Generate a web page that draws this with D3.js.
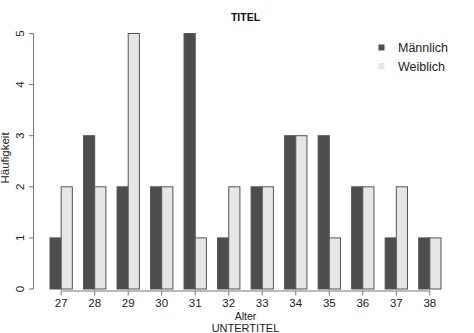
<!DOCTYPE html>
<html><head><meta charset="utf-8">
<script src="https://cdn.jsdelivr.net/npm/d3@7"></script>
<style>body{margin:0;background:#fff}text{font-family:"Liberation Sans",Arial,sans-serif}</style>
</head><body><svg id="c" width="474" height="333"></svg>
<script>
const categories = ["27","28","29","30","31","32","33","34","35","36","37","38"];
const seriesNames = ["Männlich","Weiblich"];
const maennlich = [1,3,2,2,5,1,2,3,3,2,1,1];
const weiblich  = [2,2,5,2,1,2,2,3,1,2,2,1];
const yTicks = [0,1,2,3,4,5];
const colors = ["#4d4d4d","#e6e6e6"];

const svg = d3.select("#c");
const x = d3.scaleLinear().domain([1,36]).range([50,441]);
const y = d3.scaleLinear().domain([0,5]).range([289,33.5]);
const series = [maennlich, weiblich];

// bars
series.forEach((vals, s) => {
  svg.append("g").selectAll("rect").data(vals).join("rect")
    .attr("x", (d,i) => x(1 + 3*i + s))
    .attr("width", x(2) - x(1))
    .attr("y", d => y(d))
    .attr("height", d => y(0) - y(d))
    .attr("fill", colors[s])
    .attr("stroke", "#555").attr("stroke-width", 1);
});

// x axis
const xc = categories.map((c,i) => x(2 + 3*i));
const xa = svg.append("g");
xa.append("line").attr("x1", xc[0]).attr("x2", xc[xc.length-1]).attr("y1",291).attr("y2",291)
  .attr("stroke","#777");
categories.forEach((c,i) => {
  xa.append("line").attr("x1",xc[i]).attr("x2",xc[i]).attr("y1",291).attr("y2",295.5).attr("stroke","#777");
  xa.append("text").attr("x",xc[i]).attr("y",306.5).attr("text-anchor","middle")
    .attr("font-size",11.5).attr("fill","#222").text(c);
});

// y axis
const ya = svg.append("g");
ya.append("line").attr("x1",33.5).attr("x2",33.5).attr("y1",y(0)).attr("y2",y(5)).attr("stroke","#777");
yTicks.forEach(t => {
  ya.append("line").attr("x1",29).attr("x2",33.5).attr("y1",y(t)).attr("y2",y(t)).attr("stroke","#777");
  ya.append("text").attr("transform",`translate(24,${y(t)}) rotate(-90)`).attr("text-anchor","middle")
    .attr("font-size",11.5).attr("fill","#222").text(t);
});

// labels
svg.append("text").attr("x",245.5).attr("y",20.5).attr("text-anchor","middle")
  .attr("font-size",10.5).attr("font-weight","bold").attr("fill","#111").text("TITEL");
svg.append("text").attr("x",245.5).attr("y",320).attr("text-anchor","middle")
  .attr("font-size",10.5).attr("fill","#222").text("Alter");
svg.append("text").attr("x",245.5).attr("y",332).attr("text-anchor","middle")
  .attr("font-size",11).attr("fill","#222").text("UNTERTITEL");
svg.append("text").attr("transform","translate(9,158) rotate(-90)").attr("text-anchor","middle")
  .attr("font-size",11.5).attr("fill","#222").text("Häufigkeit");

// legend
seriesNames.forEach((n,i) => {
  const cy = 47.5 + i*18.5;
  svg.append("rect").attr("x",378.5).attr("y",cy-3).attr("width",6).attr("height",6).attr("fill",colors[i]);
  svg.append("text").attr("x",398).attr("y",cy+4.5).attr("font-size",12.5).attr("fill","#222").text(n);
});
</script></body></html>
